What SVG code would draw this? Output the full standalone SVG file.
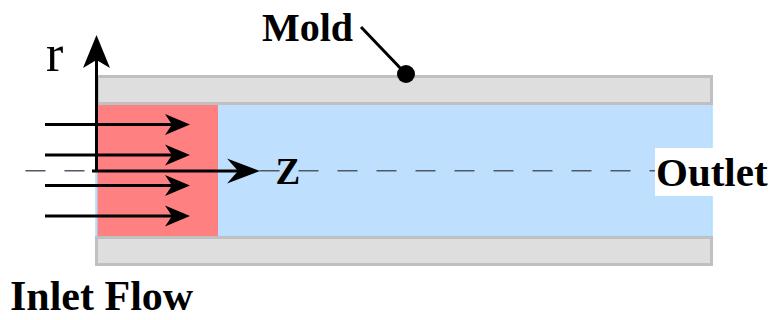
<svg xmlns="http://www.w3.org/2000/svg" width="771" height="320" viewBox="0 0 771 320">
<defs>
<style>
.mold{fill:#dedede;stroke:#c0c0c0;stroke-width:3}
.ax{stroke:#000;stroke-width:3;fill:none}
.head{fill:#000}
</style>
</defs>
<rect width="771" height="320" fill="#fff"/>
<g id="fluid">
<rect x="96" y="104" width="616" height="132" fill="#bee0fe" stroke="#a8e2ff" stroke-width="1.5"/>
<rect x="97.5" y="104" width="120.5" height="132" fill="#ff8080"/>
</g>
<g id="mold-top"><rect class="mold" x="97.5" y="76.5" width="614" height="27"/></g>
<g id="mold-bottom"><rect class="mold" x="96.5" y="237.5" width="615" height="27"/></g>
<g id="connectors">
<line x1="25.5" y1="170.8" x2="656" y2="170.8" stroke="#4f5a66" stroke-width="1.6" stroke-dasharray="20 19"/>
<g id="inflow">
<line class="ax" x1="45" y1="124.5" x2="180" y2="124.5"/>
<polygon class="head" points="190,124.5 165,114 172,124.5 165,135"/>
<line class="ax" x1="45" y1="155" x2="180" y2="155"/>
<polygon class="head" points="190,155 165,144.5 172,155 165,165.5"/>
<line class="ax" x1="45" y1="185.5" x2="180" y2="185.5"/>
<polygon class="head" points="190,185.5 165,175 172,185.5 165,196"/>
<line class="ax" x1="45" y1="216" x2="180" y2="216"/>
<polygon class="head" points="190,216 165,205.5 172,216 165,226.5"/>
</g>
<g id="r-axis">
<line class="ax" x1="96.5" y1="172" x2="96.5" y2="50"/>
<polygon class="head" points="96.5,35 83,68 96.5,60 110,68"/>
</g>
<g id="z-axis">
<line class="ax" x1="92" y1="171" x2="245" y2="171"/>
<polygon class="head" points="260,171 227,158.5 238,171 227,183.5"/>
</g>
<g id="mold-leader">
<line x1="361" y1="27" x2="405" y2="73" stroke="#000" stroke-width="3"/>
<circle cx="406" cy="74" r="9" fill="#000"/>
</g>
</g>
<g font-family="Liberation Serif, serif" fill="#000">
<g id="label-r"><text x="46" y="71" font-size="52">r</text></g>
<g font-weight="bold">
<g id="label-z"><text x="275.5" y="183.5" font-size="37">Z</text></g>
<g id="label-mold"><text x="262" y="41" font-size="40">Mold</text></g>
<g id="label-outlet">
<rect x="655" y="148" width="116" height="48" fill="#fff"/>
<text x="656" y="186" font-size="41">Outlet</text>
</g>
<g id="label-inlet"><text x="10" y="310" font-size="42">Inlet Flow</text></g>
</g>
</g>
</svg>
